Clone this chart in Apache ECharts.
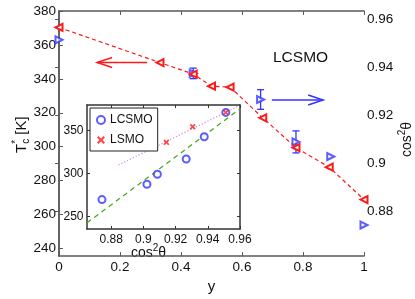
<!DOCTYPE html>
<html><head><meta charset="utf-8">
<script src="https://cdn.jsdelivr.net/npm/echarts@6/dist/echarts.min.js"></script>
<style>html,body{margin:0;padding:0;background:#fff}#c{width:415px;height:299px}</style>
</head><body><div id="c"></div>
<script>
// ---- data ----
const xTicks = [0, 0.2, 0.4, 0.6, 0.8, 1];
const tcTicks = [240, 260, 280, 300, 320, 340, 360, 380];
const cosTicks = [0.88, 0.9, 0.92, 0.94, 0.96];
const insetXTicks = [0.88, 0.9, 0.92, 0.94, 0.96];
const insetYTicks = [250, 300, 350];

// main: red (Tc, left axis)
const yRed = [0, 0.331, 0.44, 0.5, 0.561, 0.668, 0.777, 0.886, 1];
const tcRed = [370.3, 349.6, 342.8, 335.7, 335.1, 317.0, 299.4, 287.9, 268.8];
// main: blue (cos^2 theta, right axis)
const yBlue = [0, 0.44, 0.661, 0.777, 0.891, 1];
const cosBlue = [0.9516, 0.9376, 0.9267, 0.909, 0.9029, 0.8743];
const errBlue = [0, 0.0022, 0.0041, 0.0046, 0, 0];

// inset
const lcsmoCos = [0.8743, 0.9022, 0.9087, 0.9266, 0.9378, 0.9512];
const lcsmoTc = [269.8, 287.7, 299.3, 317.1, 343.0, 371.4];
const lsmoCos = [0.9143, 0.9306, 0.9512];
const lsmoTc = [336.5, 354.7, 371.4];
const fitLcsmoCos = [0.865, 0.96];
const fitLcsmoTc = [242.7, 375.5];
const fitLsmoCos = [0.8845, 0.9594];
const fitLsmoTc = [310.1, 379.1];

// annotation arrows: [xFrom, xTo, yValue]
const redArrow = [0.289, 0.125, 349.6];
const blueArrow = [0.698, 0.866, 0.9265];

// ---- styling ----
const FONT = '"Liberation Sans", Arial, Helvetica, sans-serif';
const AX = '#5a5a5a';
const TXT = '#111';
const RED = '#ff1a1a';
const BLUE = '#3535ff';
const GREEN = '#44a828';
const PINK = '#d08cf0';

const zip = (a, b) => a.map((v, i) => [v, b[i]]);
const fmt = v => String(+(+v).toFixed(3));

function axisCommon(extra) {
  return Object.assign({
    type: 'value',
    axisLine: { show: true, lineStyle: { color: AX, width: 1.5 } },
    axisTick: { show: true, inside: true, length: 4, lineStyle: { color: AX, width: 1 } },
    splitLine: { show: false },
    axisLabel: { color: TXT, fontFamily: FONT, fontSize: 13.5, formatter: fmt }
  }, extra);
}

const chart = echarts.init(document.getElementById('c'));
const crossPath = 'path://M0,2L2,0L5,3L8,0L10,2L7,5L10,8L8,10L5,7L2,10L0,8L3,5Z';

chart.setOption({
  backgroundColor: '#fff',
  animation: false,
  grid: [
    { left: 59, top: 11, width: 305, height: 252, show: false },
    { left: 87, top: 105, width: 153, height: 124, show: true, backgroundColor: '#fff', borderWidth: 0, z: 3 }
  ],
  xAxis: [
    axisCommon({ gridIndex: 0, min: 0, max: 1, interval: 0.2,
      axisLabel: { color: TXT, fontFamily: FONT, fontSize: 13.5, margin: 4, formatter: fmt },
      name: 'y', nameLocation: 'middle', nameGap: 14,
      nameTextStyle: { color: TXT, fontFamily: FONT, fontSize: 15 } }),
    axisCommon({ gridIndex: 0, position: 'top', min: 0, max: 1, interval: 0.2,
      axisLabel: { show: false } }),
    axisCommon({ gridIndex: 1, min: 0.865, max: 0.96, z: 4,
      axisLine: { show: true, lineStyle: { color: '#333', width: 1.5 } },
      axisTick: { show: true, inside: true, length: 3, customValues: insetXTicks, lineStyle: { color: '#333' } },
      axisLabel: { color: TXT, fontFamily: FONT, fontSize: 12, margin: 5, customValues: insetXTicks, formatter: fmt } }),
    axisCommon({ gridIndex: 1, position: 'top', min: 0.865, max: 0.96, z: 4,
      axisLine: { show: true, lineStyle: { color: '#333', width: 1.5 } },
      axisTick: { show: true, inside: true, length: 3, customValues: insetXTicks, lineStyle: { color: '#333' } },
      axisLabel: { show: false } })
  ],
  yAxis: [
    axisCommon({ gridIndex: 0, min: 235.5, max: 380,
      axisTick: { show: true, inside: true, length: 4, customValues: tcTicks, lineStyle: { color: AX } },
      axisLabel: { color: TXT, fontFamily: FONT, fontSize: 13.5, margin: 3, customValues: tcTicks, formatter: fmt } }),
    axisCommon({ gridIndex: 0, position: 'right', min: 0.86132, max: 0.96365,
      axisTick: { show: true, inside: true, length: 4, customValues: cosTicks, lineStyle: { color: AX } },
      axisLabel: { color: TXT, fontFamily: FONT, fontSize: 13.5, margin: 3, customValues: cosTicks, formatter: fmt } }),
    axisCommon({ gridIndex: 1, min: 235.5, max: 380, z: 4,
      axisLine: { show: true, lineStyle: { color: '#333', width: 1.5 } },
      axisTick: { show: true, inside: true, length: 3, customValues: insetYTicks, lineStyle: { color: '#333' } },
      axisLabel: { color: TXT, fontFamily: FONT, fontSize: 12, margin: 3.5, customValues: insetYTicks, formatter: fmt } }),
    axisCommon({ gridIndex: 1, position: 'right', min: 235.5, max: 380, z: 4,
      axisLine: { show: true, lineStyle: { color: '#333', width: 1.5 } },
      axisTick: { show: true, inside: true, length: 3, customValues: insetYTicks, lineStyle: { color: '#333' } },
      axisLabel: { show: false } })
  ],
  legend: {
    data: ['LCSMO', 'LSMO'],
    left: 90, top: 108, orient: 'vertical',
    borderColor: '#222', borderWidth: 1, backgroundColor: '#fff',
    padding: [6, 5, 5, 6], itemWidth: 8, itemHeight: 8, itemGap: 8,
    textStyle: { color: TXT, fontFamily: FONT, fontSize: 12 },
    z: 10
  },
  series: [
    { name: 'mainTc', type: 'line', xAxisIndex: 0, yAxisIndex: 0, data: zip(yRed, tcRed),
      symbol: 'emptyTriangle', symbolRotate: 90, symbolSize: 7, clip: false,
      lineStyle: { color: RED, width: 1.2, type: [4, 3] },
      itemStyle: { color: RED, borderWidth: 1.3 } },
    { name: 'mainCosErr', type: 'custom', xAxisIndex: 0, yAxisIndex: 1, clip: false,
      data: yBlue.map((x, i) => [x, cosBlue[i] - errBlue[i], cosBlue[i] + errBlue[i]]).filter((d, i) => errBlue[i] > 0),
      renderItem: (params, api) => {
        const x = api.value(0), lo = api.value(1), hi = api.value(2);
        const p1 = api.coord([x, lo]), p2 = api.coord([x, hi]);
        const w = 3.5, st = { stroke: BLUE, lineWidth: 1.3 };
        return { type: 'group', children: [
          { type: 'line', shape: { x1: p1[0], y1: p1[1], x2: p2[0], y2: p2[1] }, style: st },
          { type: 'line', shape: { x1: p1[0] - w, y1: p1[1], x2: p1[0] + w, y2: p1[1] }, style: st },
          { type: 'line', shape: { x1: p2[0] - w, y1: p2[1], x2: p2[0] + w, y2: p2[1] }, style: st }
        ] };
      } },
    { name: 'mainCos', type: 'scatter', xAxisIndex: 0, yAxisIndex: 1, data: zip(yBlue, cosBlue),
      symbol: 'emptyTriangle', symbolRotate: -90, symbolSize: 7, clip: false,
      itemStyle: { color: BLUE, borderWidth: 1.3 } },
    { name: 'fitLCSMO', type: 'line', xAxisIndex: 2, yAxisIndex: 2, data: zip(fitLcsmoCos, fitLcsmoTc),
      symbol: 'none', z: 5, lineStyle: { color: GREEN, width: 1.3, type: [5, 4] } },
    { name: 'fitLSMO', type: 'line', xAxisIndex: 2, yAxisIndex: 2, data: zip(fitLsmoCos, fitLsmoTc),
      symbol: 'none', z: 5, lineStyle: { color: PINK, width: 1.3, type: [1.2, 2] } },
    { name: 'LCSMO', type: 'scatter', xAxisIndex: 2, yAxisIndex: 2, data: zip(lcsmoCos, lcsmoTc),
      symbol: 'emptyCircle', symbolSize: 7, z: 6, itemStyle: { color: BLUE, borderWidth: 1.2 } },
    { name: 'LSMO', type: 'scatter', xAxisIndex: 2, yAxisIndex: 2, data: zip(lsmoCos, lsmoTc),
      symbol: crossPath, symbolSize: 6, z: 6, itemStyle: { color: RED } }
  ]
});

// ---- annotations (text runs, arrows) ----
const mctx = document.createElement('canvas').getContext('2d');
function tw(t, s) { mctx.font = s + 'px ' + FONT; return mctx.measureText(t).width; }
function runLabel(x, y, rotation, parts) {
  let cx = 0; const children = [];
  parts.forEach(p => {
    children.push({ type: 'text', x: cx, y: (p.dy || 0) - 0.35 * p.s,
      style: { text: p.t, font: p.s + 'px ' + FONT, fill: TXT, align: 'left', verticalAlign: 'middle' } });
    if (!p.stack) cx += tw(p.t, p.s);
  });
  return { type: 'group', x: x, y: y, rotation: rotation, children: children, z: 20 };
}
function arrow(fromPx, toPx, color) {
  const y = fromPx[1], tip = toPx[0], dir = Math.sign(fromPx[0] - tip);
  return [
    { type: 'polyline', shape: { points: [[fromPx[0], y], [tip, y]] }, style: { stroke: color, lineWidth: 1.5, fill: null }, z: 20 },
    { type: 'polyline', shape: { points: [[tip + dir * 15, y - 5], [tip, y], [tip + dir * 15, y + 5]] }, style: { stroke: color, lineWidth: 1.5, fill: null }, z: 20 }
  ];
}
const ra1 = chart.convertToPixel({ xAxisIndex: 0, yAxisIndex: 0 }, [redArrow[0], redArrow[2]]);
const ra2 = chart.convertToPixel({ xAxisIndex: 0, yAxisIndex: 0 }, [redArrow[1], redArrow[2]]);
const ba1 = chart.convertToPixel({ xAxisIndex: 0, yAxisIndex: 1 }, [blueArrow[0], blueArrow[2]]);
const ba2 = chart.convertToPixel({ xAxisIndex: 0, yAxisIndex: 1 }, [blueArrow[1], blueArrow[2]]);

chart.setOption({
  graphic: [].concat(
    arrow(ra1, ra2, RED),
    arrow(ba1, ba2, BLUE),
    [
      { type: 'text', x: 273, y: 62.7 - 0.35 * 15.5, z: 20,
        style: { text: 'LCSMO', font: '15.5px ' + FONT, fill: TXT, align: 'left', verticalAlign: 'middle' } },
      runLabel(27, 153, Math.PI / 2, [
        { t: 'T', s: 15 }, { t: '*', s: 10, dy: -7, stack: true }, { t: 'c', s: 10, dy: 3 }, { t: ' [K]', s: 15 }
      ]),
      runLabel(412, 157, Math.PI / 2, [
        { t: 'cos', s: 14 }, { t: '2', s: 10, dy: -6 }, { t: 'θ', s: 14 }
      ]),
      runLabel(131, 258, 0, [
        { t: 'cos', s: 14 }, { t: '2', s: 10, dy: -6 }, { t: 'θ', s: 14 }
      ])
    ]
  )
});
</script>
</body></html>
